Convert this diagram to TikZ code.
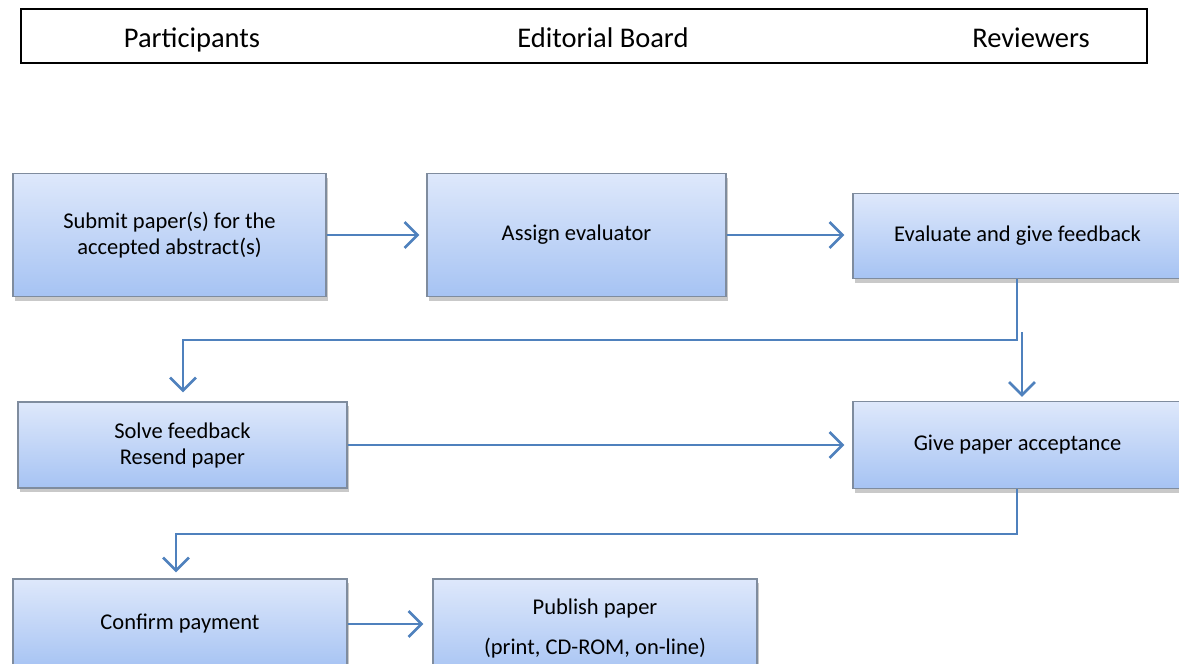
\documentclass[tikz,border=0pt]{standalone}
\usepackage{fontspec}
\setmainfont{Carlito}
\usetikzlibrary{arrows.meta,shadows,calc}
\definecolor{flowline}{HTML}{4F81BD}
\definecolor{boxtop}{HTML}{DEE8FB}
\definecolor{boxbot}{HTML}{A6C3F3}
\definecolor{boxedge}{HTML}{7F8C9E}
\tikzset{
  flowbox/.style={draw=boxedge, line width=1.3pt, top color=boxtop, bottom color=boxbot,
    drop shadow={shadow xshift=2pt, shadow yshift=-4pt, opacity=0.3, fill=black!70},
    inner sep=0pt, align=center, font=\fontsize{22.5}{26}\selectfont},
  flow/.style={draw=flowline, line width=2.8pt,
    -{Straight Barb[length=13pt,width=26pt,line width=2.6pt]}},
  hdr/.style={font=\fontsize{28.5}{33}\selectfont, anchor=base}
}
\begin{document}
\begin{tikzpicture}[x=1pt,y=-1pt]
\useasboundingbox (0,0) rectangle (1179,664);
\clip (0,0) rectangle (1179,664);
% header
\node[draw=black, line width=2pt, minimum width=1126pt, minimum height=54pt, inner sep=0pt] (hdrbox) at (584,36) {};
\node[hdr] (hp) at (192,47) {Participants};
\node[hdr] (he) at (603,47) {Editorial Board};
\node[hdr] (hr) at (1031,47) {Reviewers};
% boxes
\node[flowbox, minimum width=313pt, minimum height=123pt] (sub) at (169.5,235) {Submit paper(s) for the\\accepted abstract(s)};
\node[flowbox, minimum width=299pt, minimum height=123pt] (asg) at (576.5,235) {Assign evaluator};
\node[flowbox, minimum width=329pt, minimum height=85pt] (eva) at (1017.5,236) {Evaluate and give feedback};
\node[flowbox, minimum width=329pt, minimum height=86pt] (sol) at (182.5,445) {Solve feedback\\Resend paper};
\node[flowbox, minimum width=329pt, minimum height=87pt] (giv) at (1017.5,445) {Give paper acceptance};
\node[flowbox, minimum width=334pt, minimum height=90pt] (con) at (180,624) {Confirm payment};
\node[flowbox, minimum width=324pt, minimum height=98pt] (pub) at (595,628) {Publish paper\\[14pt](print, CD-ROM, on-line)};
% connectors
\coordinate (j1) at (1017,340);
\coordinate (j2) at (1022,332);
\coordinate (j3) at (1017,534);
\draw[flow, shorten >=7pt] (sub.east) -- (asg.west |- sub.east);
\draw[flow, shorten >=8pt] (asg.east) -- (eva.west |- asg.east);
\draw[flow, shorten >=9pt] (eva.south -| j1) -- (j1) -| ([xshift=0.5pt]sol.north);
\draw[flow, shorten >=4pt] (j2) -- (j2 |- giv.north);
\draw[flow, shorten >=8pt] (sol.east) -- (giv.west |- sol.east);
\draw[flow, shorten >=6pt] (giv.south -| j3) -- (j3) -| ([xshift=-4pt]con.north);
\draw[flow, shorten >=9pt] (con.east) -- (pub.west |- con.east);
\end{tikzpicture}
\end{document}
